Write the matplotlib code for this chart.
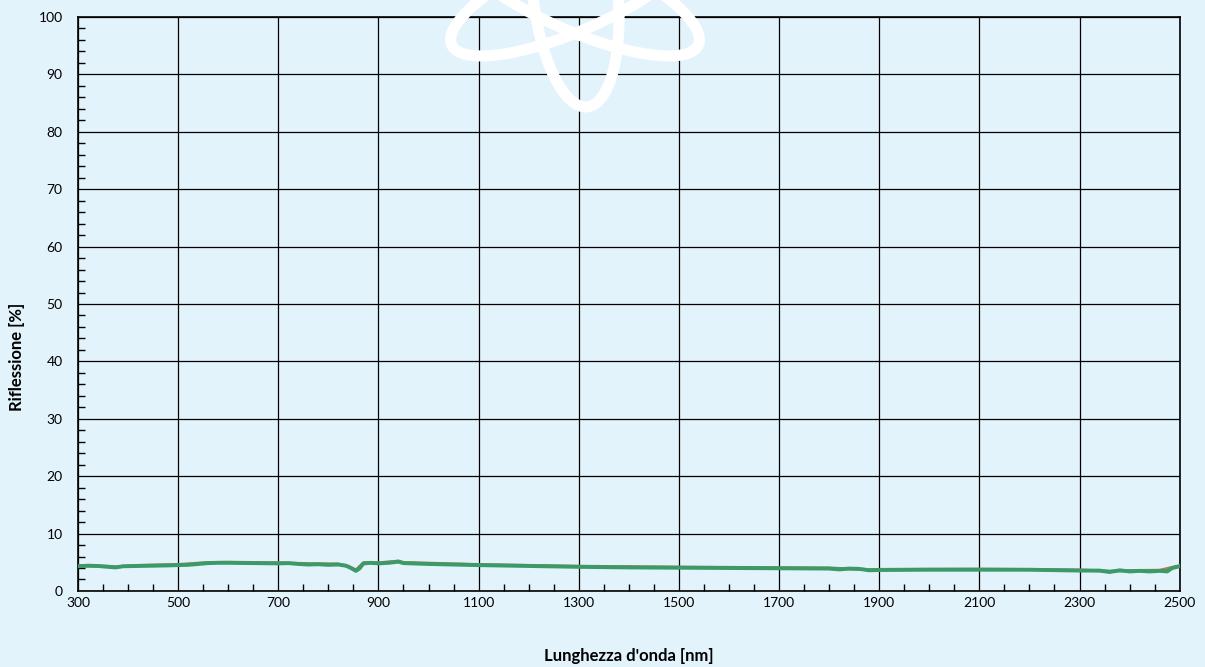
import numpy as np
import matplotlib.pyplot as plt
from matplotlib.patches import Ellipse
from matplotlib.ticker import MultipleLocator

plt.rcParams['font.family'] = ['Lato', 'DejaVu Sans']

# wavelength [nm] and reflection [%]
wl_green = [300, 320, 340, 360, 375, 390, 420, 450, 480, 500, 520, 540, 560, 580,
            600, 650, 700, 720, 740, 760, 780, 800, 820, 835, 845, 855, 862, 870,
            885, 900, 920, 940, 950, 1000, 1100, 1200, 1300, 1400, 1500, 1600,
            1700, 1800, 1820, 1840, 1860, 1880, 1900, 2000, 2100, 2200, 2300,
            2340, 2360, 2380, 2400, 2420, 2440, 2460, 2475, 2485, 2500]
refl_green = [4.3, 4.4, 4.35, 4.2, 4.1, 4.3, 4.35, 4.4, 4.45, 4.5, 4.55, 4.7, 4.85, 4.9,
              4.9, 4.85, 4.8, 4.85, 4.7, 4.6, 4.65, 4.55, 4.6, 4.4, 4.0, 3.5, 3.9, 4.8,
              4.9, 4.8, 4.9, 5.1, 4.85, 4.7, 4.5, 4.35, 4.2, 4.1, 4.05, 4.0,
              3.95, 3.9, 3.75, 3.9, 3.85, 3.6, 3.65, 3.7, 3.7, 3.7, 3.55,
              3.55, 3.3, 3.6, 3.4, 3.5, 3.4, 3.5, 3.4, 4.0, 4.3]

wl_orange = [300, 360, 375, 420, 500, 560, 600, 700, 760, 820, 840, 855, 870, 900,
             940, 950, 1100, 1300, 1500, 1700, 1800, 1880, 1900, 2100, 2300,
             2360, 2400, 2460, 2485, 2500]
refl_orange = [4.4, 4.3, 4.2, 4.45, 4.6, 4.95, 5.0, 4.9, 4.75, 4.7, 4.3, 3.65, 4.9, 4.9,
               5.2, 4.95, 4.6, 4.3, 4.15, 4.05, 4.0, 3.7, 3.75, 3.8, 3.65,
               3.45, 3.55, 3.6, 4.1, 4.4]

bg = '#E3F3FB'
fig = plt.figure(figsize=(12.05, 6.67), dpi=100, facecolor=bg)

# faint atom watermark, mostly above the top edge
for ang in (24, -24):
    fig.patches.append(Ellipse((575, 677), 270, 80, angle=ang, transform=None,
                               fill=False, ec='white', lw=8, zorder=0))
fig.patches.append(Ellipse((575, 677), 85, 235, angle=6, transform=None,
                           fill=False, ec='white', lw=8, zorder=0))

ax = fig.add_axes([0.0647, 0.114, 0.9143, 0.8605])
ax.set_facecolor('none')

ax.plot(wl_orange, refl_orange, color='#B07A55', lw=2.2, zorder=3)
ax.plot(wl_green, refl_green, color='#3A9A68', lw=2.8, zorder=4)

ax.set_xlim(300, 2500)
ax.set_ylim(0, 100)
ax.set_xticks(np.arange(300, 2501, 200))
ax.set_yticks(np.arange(0, 101, 10))
ax.xaxis.set_minor_locator(MultipleLocator(50))
ax.yaxis.set_minor_locator(MultipleLocator(2))
ax.tick_params(which='both', direction='in', labelsize=10, color='black')
ax.tick_params(axis='x', which='major', length=0, pad=4)
ax.tick_params(axis='y', which='major', length=0, pad=11)
ax.tick_params(which='minor', length=5, width=1)
ax.grid(True, which='major', color='black', lw=0.9)
for s in ax.spines.values():
    s.set_linewidth(1.2)

ax.set_xlabel("Lunghezza d'onda [nm]", fontsize=12, fontweight='bold')
ax.set_ylabel("Riflessione [%]", fontsize=12, fontweight='bold')
ax.xaxis.set_label_coords(0.5, -0.099)
ax.yaxis.set_label_coords(-0.048, 0.408)

fig.savefig('out.png', dpi=100, facecolor=bg)
